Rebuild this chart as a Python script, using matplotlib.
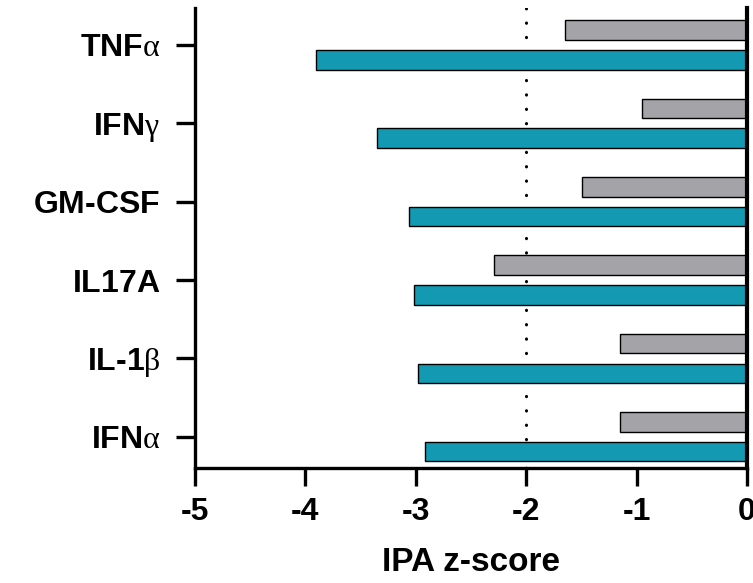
import matplotlib
matplotlib.use('Agg')
import matplotlib.pyplot as plt
import numpy as np

# data (IPA z-scores)
# labels: bold sans part via \mathbf, greek letter in plain serif (like the Symbol font)
cytokines = ['$\\mathbf{IFN}\\alpha$', '$\\mathbf{IL‐1}\\beta$', '$\\mathbf{IL17A}$',
             '$\\mathbf{GM‐CSF}$', '$\\mathbf{IFN}\\gamma$', '$\\mathbf{TNF}\\alpha$']   # bottom to top
grey_vals = [-1.15, -1.15, -2.29, -1.49, -0.95, -1.65]
teal_vals = [-2.92, -2.98, -3.02, -3.06, -3.35, -3.90]
xticks = [-5, -4, -3, -2, -1, 0]

plt.rcParams['font.family'] = ['Liberation Sans', 'DejaVu Sans']
plt.rcParams['mathtext.fontset'] = 'custom'
plt.rcParams['mathtext.rm'] = 'Liberation Serif'
plt.rcParams['mathtext.it'] = 'Liberation Serif:italic'
plt.rcParams['mathtext.bf'] = 'Liberation Sans:bold'
plt.rcParams['mathtext.default'] = 'rm'

fig = plt.figure(figsize=(7.53, 5.83), dpi=100)
ax = fig.add_axes([0.259, 0.197, 0.733, 0.789])

y = np.arange(len(cytokines))
h = 0.25
off = 0.19
ax.barh(y + off, grey_vals, height=h, color='#a4a3a8', edgecolor='black', linewidth=1, zorder=2)
ax.barh(y - off, teal_vals, height=h, color='#1399b2', edgecolor='black', linewidth=1, zorder=2)

ax.axvline(-2, color='black', linestyle=(0, (0.1, 4.6)), linewidth=2.2, dash_capstyle='round', zorder=1)

ax.set_xlim(-5, 0)
ax.set_ylim(-0.4, 5.47)
ax.set_xticks(xticks)
ax.set_xticklabels([str(t) for t in xticks], fontweight='bold')
ax.set_yticks(y)
ax.set_yticklabels(cytokines)

for s in ['left', 'bottom', 'right']:
    ax.spines[s].set_linewidth(2.4)
ax.spines['right'].set_linewidth(3)
ax.spines['top'].set_visible(False)
ax.spines['right'].set_zorder(3)

ax.tick_params(axis='x', length=13, width=2.4, pad=8, labelsize=23)
ax.tick_params(axis='y', length=14, width=2.4, pad=11, labelsize=23)

ax.set_xlabel('IPA z-score', fontsize=24, fontweight='bold', labelpad=14)

fig.savefig('out.png', dpi=100)
